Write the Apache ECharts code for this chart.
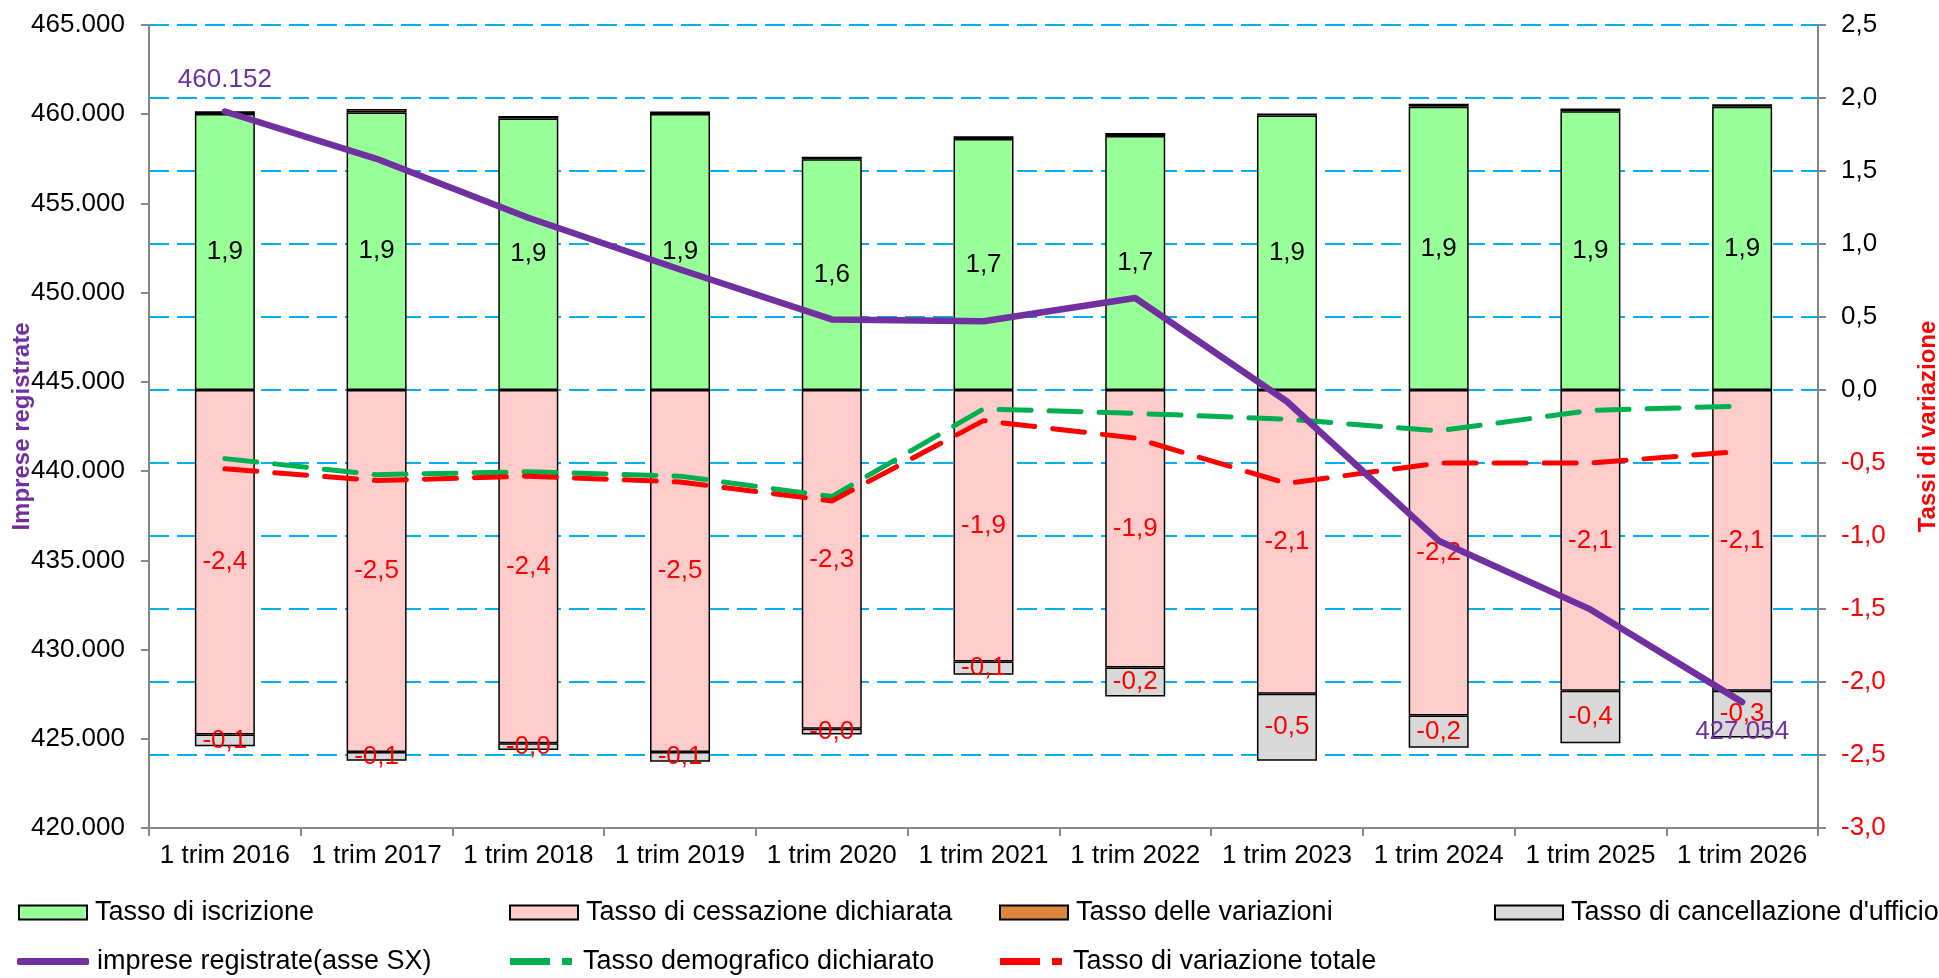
<!DOCTYPE html>
<html>
<head>
<meta charset="utf-8">
<script src="https://cdn.jsdelivr.net/npm/echarts@6/dist/echarts.min.js"></script>
<style>
  html, body { margin: 0; padding: 0; background: #fff; }
  #chart1 { width: 1939px; height: 978px; }
</style>
</head>
<body>
<div id="chart1"></div>
<script>
// dati
var categorie = ["1 trim 2016", "1 trim 2017", "1 trim 2018", "1 trim 2019", "1 trim 2020", "1 trim 2021",
    "1 trim 2022", "1 trim 2023", "1 trim 2024", "1 trim 2025", "1 trim 2026"];
var iscrizione = [1.89, 1.90, 1.86, 1.89, 1.58, 1.72, 1.74, 1.88, 1.94, 1.91, 1.94];
var variazioni = [0.02, 0.025, 0.016, 0.018, 0.018, 0.018, 0.02, 0.014, 0.02, 0.018, 0.018];
var cessazione = [-2.36, -2.48, -2.42, -2.48, -2.32, -1.86, -1.90, -2.08, -2.23, -2.06, -2.06];
var cancellazione = [-0.08, -0.06, -0.046, -0.066, -0.04, -0.09, -0.20, -0.46, -0.22, -0.36, -0.32];
var imprese = [460152, 457500, 454200, 451300, 448500, 448400, 449700, 443900, 436100, 432250, 427054];
var demografico = [-0.47, -0.58, -0.56, -0.59, -0.73, -0.13, -0.16, -0.20, -0.28, -0.14, -0.11];
var variazioneTotale = [-0.54, -0.62, -0.59, -0.63, -0.76, -0.21, -0.33, -0.64, -0.50, -0.50, -0.42];

var FONT = "Arial, 'Liberation Sans', sans-serif";
var FS = 26;

var fmtMigliaia = function (v) {
    return String(Math.round(v)).replace(/\B(?=(\d{3})+(?!\d))/g, ".");
};
var fmtTasso = function (v) {
    return Number(v).toFixed(1).replace(".", ",");
};

var LoadChart = function () {
    var myChart = echarts.init(document.getElementById("chart1"));
    var nLast = imprese.length - 1;

    // solo il primo e l'ultimo valore hanno l'etichetta
    var impreseData = imprese.map(function (v, i) {
        if (i === 0) {
            return { value: v, label: { show: true, position: "top", distance: 18 } };
        }
        if (i === nLast) {
            return { value: v, label: { show: true, position: "bottom", distance: 16 } };
        }
        return v;
    });

    var dashIcon = "path://M0,0H40V7H0Z M52,0H62V7H52Z";
    var legendItem = function (name, left, top, w, h, icon) {
        return {
            data: [{ name: name, icon: icon }],
            left: left,
            top: top,
            itemWidth: w,
            itemHeight: h,
            selectedMode: false,
            padding: 0,
            itemGap: 0,
            textStyle: { fontFamily: FONT, fontSize: 27, color: "#000", padding: [0, 0, 0, 3] }
        };
    };

    var barLabel = function (color) {
        return {
            show: true, position: "inside", fontFamily: FONT, fontSize: FS, color: color,
            formatter: function (p) { return fmtTasso(p.value); }
        };
    };

    option = {
        animation: false,
        backgroundColor: "#fff",
        textStyle: { fontFamily: FONT },
        grid: { left: 149, right: 121, top: 25, bottom: 150, containLabel: false, outerBoundsMode: "none" },
        legend: [
            legendItem("Tasso di iscrizione", 18, 899, 68, 14, "rect"),
            legendItem("Tasso di cessazione dichiarata", 509, 899, 68, 14, "rect"),
            legendItem("Tasso delle variazioni", 999, 899, 68, 14, "rect"),
            legendItem("Tasso di cancellazione d'ufficio", 1494, 899, 68, 14, "rect"),
            legendItem("imprese registrate(asse SX)", 17, 948, 72, 7, "roundRect"),
            legendItem("Tasso demografico dichiarato", 510, 948, 68, 7, dashIcon),
            legendItem("Tasso di variazione totale", 1000, 948, 68, 7, dashIcon)
        ],
        xAxis: {
            type: "category",
            data: categorie,
            axisLine: { onZero: false, lineStyle: { color: "#868686", width: 2 } },
            axisTick: { show: true, alignWithLabel: false, length: 8, lineStyle: { color: "#868686", width: 2 } },
            axisLabel: { fontFamily: FONT, fontSize: FS, color: "#000", margin: 15, interval: 0 },
            splitLine: { show: false }
        },
        yAxis: [
            {
                type: "value",
                min: 420000,
                max: 465000,
                interval: 5000,
                position: "left",
                name: "Imprese registrate",
                nameLocation: "middle",
                nameGap: 115,
                nameMoveOverlap: false,
                nameTextStyle: { fontFamily: FONT, fontSize: 24, fontWeight: "bold", color: "#7030A0" },
                axisLine: { show: true, onZero: false, lineStyle: { color: "#868686", width: 2 } },
                axisTick: { show: true, length: 8, lineStyle: { color: "#868686", width: 2 } },
                axisLabel: { fontFamily: FONT, fontSize: FS, color: "#000", margin: 24, formatter: fmtMigliaia },
                splitLine: { show: false }
            },
            {
                type: "value",
                min: -3,
                max: 2.5,
                interval: 0.5,
                position: "right",
                name: "Tassi di variazione",
                nameLocation: "middle",
                nameGap: 98,
                nameMoveOverlap: false,
                nameTextStyle: { fontFamily: FONT, fontSize: 24, fontWeight: "bold", color: "#FF0000" },
                axisLine: { show: true, onZero: false, lineStyle: { color: "#868686", width: 2 } },
                axisTick: { show: true, length: 8, lineStyle: { color: "#868686", width: 2 } },
                axisLabel: {
                    fontFamily: FONT, fontSize: FS, margin: 23,
                    formatter: fmtTasso,
                    color: function (v) { return Number(v) < 0 ? "#FF0000" : "#000"; }
                },
                splitLine: { show: true, lineStyle: { color: "#00B0F0", width: 2, type: [20, 8] } }
            }
        ],
        series: [
            {
                name: "Tasso di iscrizione",
                type: "bar",
                yAxisIndex: 1,
                stack: "tassi",
                barWidth: 60,
                data: iscrizione,
                itemStyle: { color: "#99FF99", borderColor: "#000", borderWidth: 1.5 },
                label: barLabel("#000"),
                z: 2
            },
            {
                name: "Tasso di cessazione dichiarata",
                type: "bar",
                yAxisIndex: 1,
                stack: "tassi",
                barWidth: 60,
                data: cessazione,
                itemStyle: { color: "#FFCCCC", borderColor: "#000", borderWidth: 1.5 },
                label: barLabel("#FF0000"),
                z: 2
            },
            {
                name: "Tasso delle variazioni",
                type: "bar",
                yAxisIndex: 1,
                stack: "tassi",
                barWidth: 60,
                data: variazioni,
                itemStyle: { color: "#DC863C", borderColor: "#000", borderWidth: 1.5 },
                z: 2
            },
            {
                name: "Tasso di cancellazione d'ufficio",
                type: "bar",
                yAxisIndex: 1,
                stack: "tassi",
                barWidth: 60,
                data: cancellazione,
                itemStyle: { color: "#D9D9D9", borderColor: "#000", borderWidth: 1.5 },
                label: barLabel("#FF0000"),
                z: 2
            },
            {
                name: "Tasso demografico dichiarato",
                type: "line",
                yAxisIndex: 1,
                data: demografico,
                symbol: "none",
                itemStyle: { color: "#00B050" },
                lineStyle: { color: "#00B050", width: 5, type: [32, 18], cap: "round" },
                z: 4
            },
            {
                name: "Tasso di variazione totale",
                type: "line",
                yAxisIndex: 1,
                data: variazioneTotale,
                symbol: "none",
                itemStyle: { color: "#FF0000" },
                lineStyle: { color: "#FF0000", width: 5, type: [32, 18], cap: "round" },
                z: 4
            },
            {
                name: "imprese registrate(asse SX)",
                type: "line",
                yAxisIndex: 0,
                data: impreseData,
                symbol: "circle",
                symbolSize: 1,
                showSymbol: true,
                itemStyle: { color: "#7030A0" },
                lineStyle: { color: "#7030A0", width: 6.5, cap: "round" },
                label: {
                    show: false, fontFamily: FONT, fontSize: FS, color: "#7030A0",
                    formatter: function (p) { return fmtMigliaia(p.value); }
                },
                z: 6
            }
        ]
    };
    myChart.setOption(option);
};

LoadChart();
</script>
</body>
</html>
